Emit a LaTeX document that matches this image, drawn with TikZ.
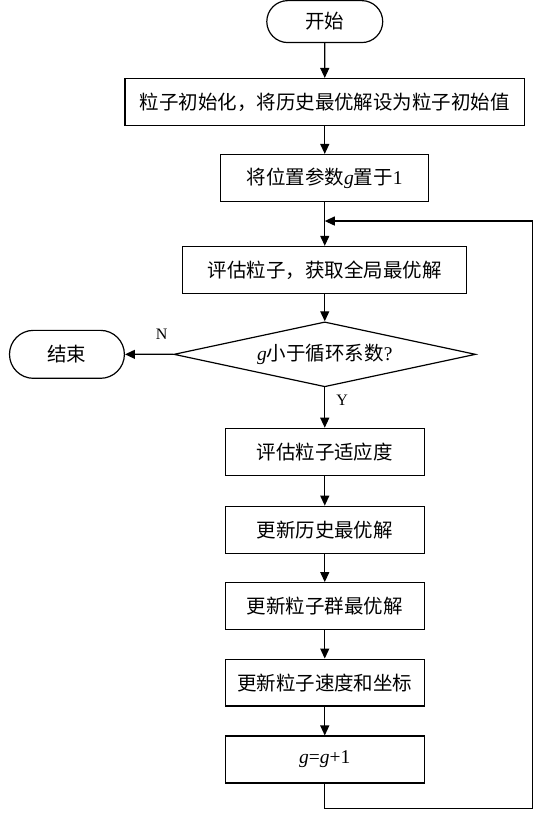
\documentclass[tikz,border=0pt]{standalone}
\usepackage{fontspec}
\setmainfont{Liberation Serif}
\newfontfamily\cjkfont{Noto Sans CJK SC}
\usepackage{tikz}
\usetikzlibrary{arrows.meta, shapes, positioning}
\newcommand{\gvar}{{\rmfamily\itshape g}}
\tikzset{
    stepnode/.style = {draw, rectangle, inner sep = 0em, node distance=0em, minimum height=47pt,
      font=\cjkfont\fontsize{19.5}{22}\selectfont},
    termnode/.style = {draw, rounded rectangle, inner sep = 0em, node distance=0em,
      minimum width=116pt, minimum height=42pt, font=\cjkfont\fontsize{19.5}{22}\selectfont},
    decisionnode/.style = {draw, diamond, aspect=4.65, inner sep = 0em, node distance=0em,
      minimum width=302pt, minimum height=65pt, font=\cjkfont\fontsize{19.5}{22}\selectfont},
    textnode/.style  = {draw=none, fill=none, rectangle, minimum size=0cm, inner sep = 0em,
      node distance=0em, font=\rmfamily\fontsize{16}{16}\selectfont},
    connect/.style = {black,->},
    every text node part/.style={align=center}
}

\begin{document}
\begin{tikzpicture}[line width=1.2pt, >={Triangle[length=10pt,width=9pt]}]
    \node [name=start, termnode] {开始};
    \useasboundingbox ([xshift=-325pt, yshift=21pt]start.center) rectangle ([xshift=227pt, yshift=-801pt]start.center);

    \node [name=init, stepnode, below of = start, yshift=-80.5pt, minimum width=400pt] {粒子初始化，将历史最优解设为粒子初始值};
    \node [name=setg, stepnode, below of = init, yshift=-76pt, minimum width=208pt] {将位置参数\gvar 置于{\rmfamily 1}};
    \node [name=eval, stepnode, below of = setg, yshift=-92pt, minimum width=284pt] {评估粒子，获取全局最优解};
    \node [name=judge, decisionnode, below of = eval, yshift=-84.5pt] {\gvar 小于循环系数{\rmfamily ?}};
    \node [name=stop, termnode, left of = judge, xshift=-258pt, minimum width=115pt, minimum height=48pt] {结束};

    \draw (start) edge[connect] (init);
    \draw (init) edge[connect] (setg);
    \draw (setg) edge[connect] (eval);
    \draw (eval) edge[connect] (judge);
    \draw (judge) edge[connect] node[textnode, pos=0.24, above=14pt] {N} (stop);

    \node [name=fit, stepnode, below of = judge, yshift=-97.5pt, minimum width=199pt] {评估粒子适应度};
    \node [name=hist, stepnode, below of = fit, yshift=-78pt, minimum width=199pt] {更新历史最优解};
    \node [name=swarm, stepnode, below of = hist, yshift=-76.5pt, minimum width=199pt] {更新粒子群最优解};
    \node [name=update, stepnode, below of = swarm, yshift=-76.5pt, minimum width=199pt] {更新粒子速度和坐标};
    \node [name=incr, stepnode, below of = update, yshift=-77pt, minimum width=199pt] {{\rmfamily\itshape g}{\rmfamily =}{\rmfamily\itshape g}{\rmfamily +1}};

    \draw (judge) edge[connect] node[textnode, pos=0.32, right=11pt] {Y} (fit);
    \draw (fit) edge[connect] (hist);
    \draw (hist) edge[connect] (swarm);
    \draw (swarm) edge[connect] (update);
    \draw (update) edge[connect] (incr);

    % back to the evaluation step
    \coordinate (back) at ([yshift=-19pt]setg.south);
    \coordinate (loopcorner) at ([xshift=208pt, yshift=-25pt]incr.south);
    \draw[connect] (incr.south) |- (loopcorner) |- (back);
\end{tikzpicture}
\end{document}
